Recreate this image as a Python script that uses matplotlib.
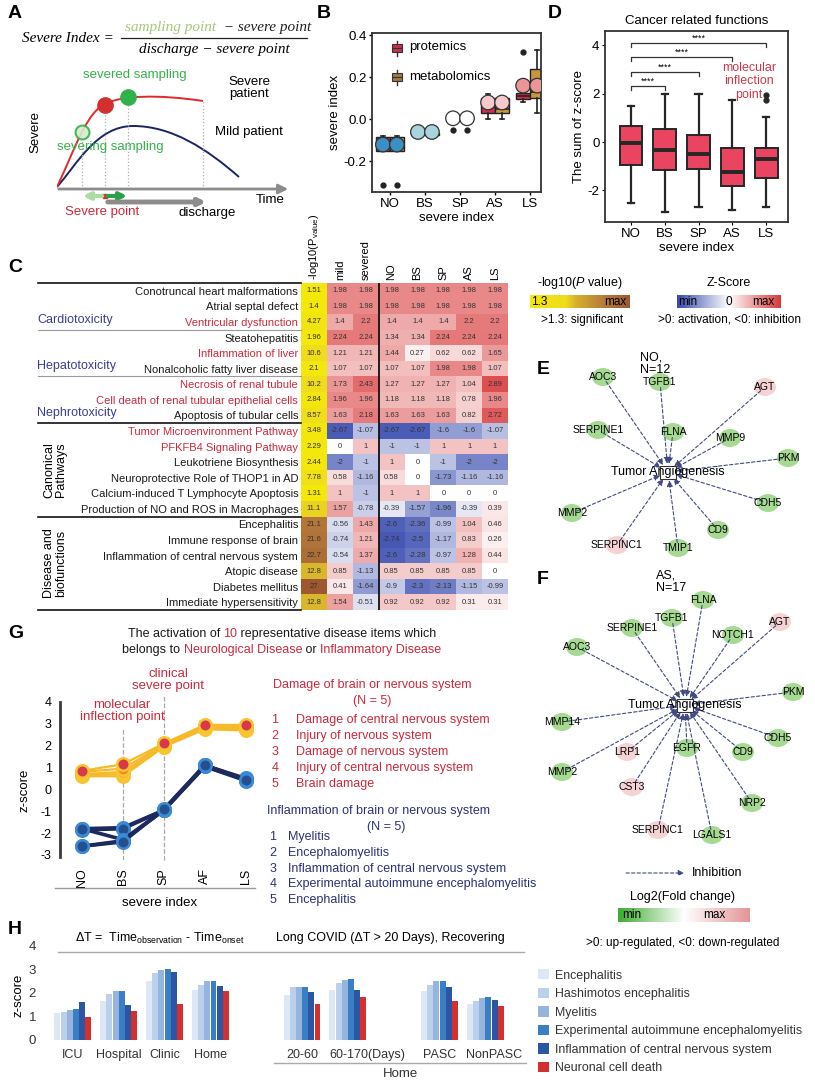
import matplotlib
matplotlib.use('Agg')
import matplotlib.pyplot as plt
import numpy as np
from matplotlib.colors import LinearSegmentedColormap, TwoSlopeNorm, Normalize
from matplotlib.path import Path
from matplotlib.patches import PathPatch, Rectangle, Ellipse
from matplotlib.transforms import ScaledTranslation

plt.rcParams['font.family'] = ['Liberation Sans', 'DejaVu Sans']
plt.rcParams['mathtext.fontset'] = 'custom'
plt.rcParams['mathtext.rm'] = 'Liberation Sans'
plt.rcParams['mathtext.it'] = 'Liberation Sans:italic'
plt.rcParams['axes.unicode_minus'] = False

# ---------------- data ----------------
# B: severe index per stage (box summary)
b_cats = ['NO', 'BS', 'SP', 'AS', 'LS']
b_prot_q1 = [-0.15, -0.075, 0.0, 0.03, 0.095]
b_prot_med = [-0.12, -0.07, 0.0, 0.06, 0.11]
b_prot_q3 = [-0.085, -0.065, 0.0, 0.10, 0.125]
b_prot_lo = [-0.15, -0.075, 0.0, 0.0, 0.08]
b_prot_hi = [-0.08, -0.065, 0.0, 0.12, 0.13]
b_prot_fliers = [[-0.31], [], [-0.05], [], [0.32]]
b_meta_q1 = [-0.15, -0.075, 0.0, 0.03, 0.10]
b_meta_med = [-0.12, -0.07, 0.0, 0.05, 0.13]
b_meta_q3 = [-0.085, -0.065, 0.0, 0.10, 0.24]
b_meta_lo = [-0.15, -0.075, 0.0, 0.0, 0.03]
b_meta_hi = [-0.08, -0.065, 0.0, 0.10, 0.33]
b_meta_fliers = [[-0.31], [], [-0.05], [], []]
b_point = [-0.12, -0.06, 0.005, 0.08, 0.16]
b_point_colors = ['#3b8fc2', '#a9d3df', '#ffffff', '#f6c9cb', '#ec9597']

# D: cancer related functions
d_cats = ['NO', 'BS', 'SP', 'AS', 'LS']
d_q1 = [-0.95, -1.15, -1.1, -1.8, -1.5]
d_med = [-0.05, -0.32, -0.48, -1.25, -0.7]
d_q3 = [0.65, 0.55, 0.3, -0.25, -0.25]
d_lo = [-2.5, -2.9, -2.7, -2.8, -2.7]
d_hi = [1.5, 2.0, 2.0, 1.75, 1.05]
d_fliers = [[], [], [], [], [1.72, 1.96]]
d_sig_to = [1, 2, 3, 4]
d_sig_y = [2.3, 2.9, 3.5, 4.08]

# C: heatmap
c_rows = ['Conotruncal heart malformations', 'Atrial septal defect', 'Ventricular dysfunction',
          'Steatohepatitis', 'Inflammation of liver', 'Nonalcoholic fatty liver disease',
          'Necrosis of renal tubule', 'Cell death of renal tubular epithelial cells',
          'Apoptosis of tubular cells', 'Tumor Microenvironment Pathway',
          'PFKFB4 Signaling Pathway', 'Leukotriene Biosynthesis',
          'Neuroprotective Role of THOP1 in AD', 'Calcium-induced T Lymphocyte Apoptosis',
          'Production of NO and ROS in Macrophages', 'Encephalitis', 'Immune response of brain',
          'Inflammation of central nervous system', 'Atopic disease', 'Diabetes mellitus',
          'Immediate hypersensitivity']
c_row_red = [0, 0, 1, 0, 1, 0, 1, 1, 0, 1, 1, 0, 0, 0, 0, 0, 0, 0, 0, 0, 0]
c_pval = [1.51, 1.4, 4.27, 1.96, 10.6, 2.1, 10.2, 2.84, 8.57, 3.48, 2.29, 2.44, 7.78, 1.31,
          11.1, 21.1, 21.6, 22.7, 12.8, 27, 12.8]
c_cols = ['mild', 'severed', 'NO', 'BS', 'SP', 'AS', 'LS']
c_z = [
    [1.98, 1.98, 1.98, 1.98, 1.98, 1.98, 1.98],
    [1.98, 1.98, 1.98, 1.98, 1.98, 1.98, 1.98],
    [1.4, 2.2, 1.4, 1.4, 1.4, 2.2, 2.2],
    [2.24, 2.24, 1.34, 1.34, 2.24, 2.24, 2.24],
    [1.21, 1.21, 1.44, 0.27, 0.62, 0.62, 1.65],
    [1.07, 1.07, 1.07, 1.07, 1.98, 1.98, 1.07],
    [1.73, 2.43, 1.27, 1.27, 1.27, 1.04, 2.89],
    [1.96, 1.96, 1.18, 1.18, 1.18, 0.78, 1.96],
    [1.63, 2.18, 1.63, 1.63, 1.63, 0.82, 2.72],
    [-2.67, -1.07, -2.67, -2.67, -1.6, -1.6, -1.07],
    [0, 1, -1, -1, 1, 1, 1],
    [-2, -1, 1, 0, -1, -2, -2],
    [0.58, -1.16, 0.58, 0, -1.73, -1.16, -1.16],
    [1, -1, 1, 1, 0, 0, 0],
    [1.57, -0.78, -0.39, -1.57, -1.96, -0.39, 0.39],
    [-0.56, 1.43, -2.6, -2.36, -0.99, 1.04, 0.46],
    [-0.74, 1.21, -2.74, -2.5, -1.17, 0.83, 0.26],
    [-0.54, 1.37, -2.6, -2.28, -0.97, 1.28, 0.44],
    [0.85, -1.13, 0.85, 0.85, 0.85, 0.85, 0],
    [0.41, -1.64, -0.9, -2.3, -2.13, -1.15, -0.99],
    [1.54, -0.51, 0.92, 0.92, 0.92, 0.31, 0.31],
]
c_groups = ['Cardiotoxicity', 'Hepatotoxicity', 'Nephrotoxicity', 'Canonical\nPathways',
            'Disease and\nbiofunctions']
c_group_sizes = [3, 3, 3, 6, 6]

# E / F: networks (gene, up-regulated?)
e_genes = ['AOC3', 'TGFB1', 'AGT', 'SERPINE1', 'FLNA', 'MMP9', 'PKM', 'CDH5', 'MMP2', 'CD9',
           'SERPINC1', 'TMIP1']
e_up = [0, 0, 1, 0, 0, 0, 0, 0, 0, 0, 1, 0]
f_genes = ['FLNA', 'TGFB1', 'SERPINE1', 'AGT', 'NOTCH1', 'AOC3', 'PKM', 'MMP14', 'CDH5', 'LRP1',
           'EGFR', 'CD9', 'MMP2', 'CST3', 'NRP2', 'SERPINC1', 'LGALS1']
f_up = [0, 0, 0, 1, 0, 0, 0, 0, 0, 1, 0, 0, 0, 1, 0, 1, 0]

# G: activation z-scores
g_stages = ['NO', 'BS', 'SP', 'AF', 'LS']
g_damage = [[0.85, 1.15, 2.1, 2.95, 2.95],
            [0.8, 0.95, 2.05, 2.9, 2.9],
            [0.7, 0.8, 2.0, 2.85, 2.8],
            [0.65, 0.7, 2.05, 2.8, 2.75],
            [0.6, 0.6, 1.95, 2.75, 2.7]]
g_inflam = [[-1.8, -1.75, -0.95, 1.1, 0.45],
            [-1.85, -1.8, -0.95, 1.05, 0.45],
            [-1.8, -2.3, -0.95, 1.1, 0.5],
            [-2.6, -2.35, -0.95, 1.05, 0.4],
            [-2.6, -2.4, -0.9, 1.1, 0.45]]
g_damage_items = ['Damage of central nervous system', 'Injury of nervous system',
                  'Damage of nervous system', 'Injury of central nervous system', 'Brain damage']
g_inflam_items = ['Myelitis', 'Encephalomyelitis', 'Inflammation of central nervous system',
                  'Experimental autoimmune encephalomyelitis', 'Encephalitis']

# H: long covid z-scores
h_groups = ['ICU', 'Hospital', 'Clinic', 'Home', '20-60', '60-170(Days)', 'PASC', 'NonPASC']
h_series = ['Encephalitis', 'Hashimotos encephalitis', 'Myelitis',
            'Experimental autoimmune encephalomyelitis', 'Inflammation of central nervous system',
            'Neuronal cell death']
h_values = [[1.13, 1.63, 2.51, 2.13, 1.89, 2.13, 2.09, 1.53],
            [1.16, 1.94, 2.84, 2.34, 2.23, 2.41, 2.34, 1.63],
            [1.27, 2.06, 2.98, 2.48, 2.23, 2.55, 2.48, 1.77],
            [1.30, 2.09, 3.00, 2.51, 2.24, 2.60, 2.51, 1.80],
            [1.59, 1.49, 2.90, 2.27, 2.03, 2.13, 2.24, 1.70],
            [0.96, 1.23, 1.53, 2.06, 1.52, 1.80, 1.63, 1.42]]

# ---------------- figure ----------------
W, H = 815, 1084
fig = plt.figure(figsize=(W / 100, H / 100), dpi=100)
RED = '#cc2a3c'
GREEN = '#35b24a'
NAVY = '#2b3278'


def pxax(x0, y0, x1, y1):
    a = fig.add_axes([x0 / W, 1 - y1 / H, (x1 - x0) / W, (y1 - y0) / H])
    a.patch.set_alpha(0)
    return a


ov = fig.add_axes([0, 0, 1, 1])
ov.set_xlim(0, W)
ov.set_ylim(H, 0)
ov.axis('off')
ov.set_zorder(5)
ov.patch.set_alpha(0)
renderer = fig.canvas.get_renderer()


def rich(x, y, parts, size=9, ha='center', **kw):
    texts, widths = [], []
    for s, c in parts:
        t = ov.text(0, y, s, color=c, fontsize=size, va='center', ha='left', **kw)
        texts.append(t)
        widths.append(t.get_window_extent(renderer).width)
    x0 = x - sum(widths) / 2 if ha == 'center' else x
    for t, w in zip(texts, widths):
        t.set_x(x0)
        x0 += w


for lab, x, y in [('A', 8, 14), ('B', 317, 14), ('D', 548, 13), ('C', 8, 268),
                  ('E', 537, 369), ('F', 537, 579), ('G', 8, 633), ('H', 8, 929)]:
    ov.text(x, y, lab, fontsize=14, fontweight='bold', va='center')

# ---- A ----
serif = dict(family='Liberation Serif', style='italic', fontsize=11)
ov.text(22, 38, 'Severe Index =', va='center', **serif)
rich(125, 27, [('sampling point', '#a3c87a'), ('  \u2212 severe point', '#222222')], ha='left',
     size=11, family='Liberation Serif', style='italic')
ov.text(214, 49, 'discharge \u2212 severe point', va='center', ha='center', **serif)
ov.plot([121, 307], [38, 38], color='#222222', lw=0.9)

ax_a = pxax(57, 75, 285, 189)
ax_a.set_xlim(0, 228)
ax_a.set_ylim(0, 114)
ax_a.axis('off')
red_path = Path([(0, 2), (20, 45), (30, 78), (50, 86), (65, 93), (100, 95), (146, 88)],
                [Path.MOVETO] + [Path.CURVE4] * 6)
blue_path = Path([(0, 2), (20, 25), (40, 63), (76, 63), (115, 63), (150, 40), (182, 12)],
                 [Path.MOVETO] + [Path.CURVE4] * 6)
ax_a.add_patch(PathPatch(blue_path, fc='none', ec='#1b2466', lw=1.4))
ax_a.add_patch(PathPatch(red_path, fc='none', ec='#e02a2a', lw=1.4))
ax_a.vlines([25, 48, 71, 146], 0, [57, 84, 92, 88], colors='#b0b0b0', linestyles=':', lw=0.9)
ax_a.annotate('', xy=(0, 116), xytext=(0, -1),
              arrowprops=dict(arrowstyle='-|>', color='#8c8c8c', lw=2, mutation_scale=14))
ax_a.annotate('', xy=(234, 0), xytext=(-1, 0),
              arrowprops=dict(arrowstyle='-|>', color='#8c8c8c', lw=2, mutation_scale=14),
              annotation_clip=False)
ax_a.plot([25], [57], 'o', ms=10, mfc='#d8ead0', mec=GREEN, mew=1.5, alpha=0.9)
ax_a.plot([48], [84], 'o', ms=11, mfc='#d32f2f', mec='#d32f2f')
ax_a.plot([71], [92], 'o', ms=11, mfc='#2fb14b', mec='#2fb14b')
ax_a.annotate('', xy=(23, -7), xytext=(48, -7), annotation_clip=False,
              arrowprops=dict(arrowstyle='-|>', color='#a8dca0', lw=3, mutation_scale=10))
ax_a.annotate('', xy=(73, -7), xytext=(48, -7), annotation_clip=False,
              arrowprops=dict(arrowstyle='-|>', color='#2aa048', lw=3, mutation_scale=10))
ax_a.plot([48], [-7], 's', ms=3, color='#d32f2f', clip_on=False)
ax_a.annotate('', xy=(152, -13), xytext=(48, -13), annotation_clip=False,
              arrowprops=dict(arrowstyle='-|>', color='#8c8c8c', lw=3.5, mutation_scale=10))
ax_a.text(78, 114, 'severed sampling', color=GREEN, fontsize=9.5, ha='center', va='center',
          clip_on=False)
ax_a.text(53, 42, 'severing sampling', color=GREEN, fontsize=9.5, ha='center', va='center')
ax_a.text(192, 101, 'Severe\npatient', fontsize=9.5, ha='center', va='center', linespacing=1.1)
ax_a.text(192, 57, 'Mild patient', fontsize=9.5, ha='center', va='center')
ax_a.text(-22, 57, 'Severe', fontsize=9.5, rotation=90, ha='center', va='center', clip_on=False)
ax_a.text(213, -11, 'Time', fontsize=9.5, ha='center', va='center', clip_on=False)
ax_a.text(45, -23, 'Severe point', fontsize=9.5, color=RED, ha='center', va='center',
          clip_on=False)
ax_a.text(150, -24, 'discharge', fontsize=9.5, ha='center', va='center', clip_on=False)

# ---- B ----
ax_b = pxax(372, 33, 541, 192)
xb = np.arange(1, 6)


def stats(q1, med, q3, lo, hi, fl):
    return [dict(q1=a, med=b, q3=c, whislo=d, whishi=e, fliers=f)
            for a, b, c, d, e, f in zip(q1, med, q3, lo, hi, fl)]


PROT, META = '#c9304a', '#c7963e'
edge = dict(color='#222222', lw=1.2)
for st, off, col in [(stats(b_prot_q1, b_prot_med, b_prot_q3, b_prot_lo, b_prot_hi,
                            b_prot_fliers), -0.2, PROT),
                     (stats(b_meta_q1, b_meta_med, b_meta_q3, b_meta_lo, b_meta_hi,
                            b_meta_fliers), 0.2, META)]:
    ax_b.bxp(st, positions=xb + off, widths=0.38, patch_artist=True, capwidths=0.1,
             boxprops=dict(facecolor=col, edgecolor='#222222', lw=1.0),
             medianprops=edge, whiskerprops=edge, capprops=edge,
             flierprops=dict(marker='o', mfc='#222222', mec='#222222', ms=3.5))
for off in (-0.2, 0.2):
    ax_b.scatter(xb + off, b_point, s=110, c=b_point_colors, edgecolors='#333333',
                 linewidths=0.9, zorder=4)
# legend icons
for yc, col in [(0.338, PROT), (0.2, '#9c7a44')]:
    ax_b.bxp(stats([yc - 0.02], [yc], [yc + 0.02], [yc - 0.035], [yc + 0.035], [[]]),
             positions=[1.2], widths=0.3, patch_artist=True, capwidths=0.0, manage_ticks=False,
             boxprops=dict(facecolor=col, edgecolor='#333333', lw=0.8),
             medianprops=dict(color='#333333', lw=0.8), whiskerprops=dict(color='#333333'))
ax_b.text(1.55, 0.345, 'protemics', fontsize=9.5, va='center')
ax_b.text(1.55, 0.2, 'metabolomics', fontsize=9.5, va='center')
ax_b.set_xlim(0.49, 5.31)
ax_b.set_ylim(-0.345, 0.41)
ax_b.set_xticks(xb, b_cats)
ax_b.set_yticks([-0.2, 0, 0.2, 0.4], ['-0.2', '0.0', '0.2', '0.4'])
ax_b.tick_params(labelsize=9.5, length=2.5, width=1, pad=1.5)
ax_b.set_xlabel('severe index', fontsize=9.5, labelpad=2)
ax_b.set_ylabel('severe index', fontsize=9.5, labelpad=2)
for s in ax_b.spines.values():
    s.set_linewidth(1.3)
    s.set_color('#333333')

# ---- D ----
ax_d = pxax(605, 31, 788, 222)
xd = np.arange(1, 6)
ax_d.bxp(stats(d_q1, d_med, d_q3, d_lo, d_hi, d_fliers), positions=xd, widths=0.68,
         patch_artist=True, capwidths=0.18,
         boxprops=dict(facecolor='#ea4460', edgecolor='#262626', lw=1.4),
         medianprops=dict(color='#262626', lw=2.8),
         whiskerprops=dict(color='#262626', lw=1.6), capprops=dict(color='#262626', lw=1.6),
         flierprops=dict(marker='o', mfc='#262626', mec='#262626', ms=3.5))
for j, yv in zip(d_sig_to, d_sig_y):
    ax_d.plot([1, 1, xd[j], xd[j]], [yv - 0.17, yv, yv, yv - 0.17], color='#333333', lw=0.9)
    ax_d.text((1 + xd[j]) / 2, yv + 0.02, '****', fontsize=6.5, ha='center', va='bottom')
ax_d.text(4.5, 2.5, 'molecular\ninflection\npoint', color='#cc3a48', fontsize=9,
          ha='center', va='center', linespacing=1.2)
ax_d.set_xlim(0.23, 5.65)
ax_d.set_ylim(-3.3, 4.58)
ax_d.set_xticks(xd, d_cats)
ax_d.set_yticks([-2, 0, 2, 4])
ax_d.tick_params(labelsize=9.5, length=2.5, pad=1.5)
ax_d.set_xlabel('severe index', fontsize=9.5, labelpad=2)
ax_d.set_ylabel('The sum of z-score', fontsize=9.5, labelpad=2)
ax_d.set_title('Cancer related functions', fontsize=9.5, pad=5)
for s in ax_d.spines.values():
    s.set_linewidth(1.3)
    s.set_color('#333333')

# ---- C ----
p_cmap = LinearSegmentedColormap.from_list(
    'p', [(0, '#f4e80a'), (0.36, '#efdc1c'), (0.46, '#d7b02e'), (0.76, '#b3783a'),
          (1, '#9d5830')])
p_norm = Normalize(1.3, 27)
z_cmap = LinearSegmentedColormap.from_list('z', ['#3448ad', '#ffffff', '#d83838'])
z_norm = TwoSlopeNorm(vcenter=0, vmin=-3.0, vmax=3.3)
ax_c = pxax(301, 283, 508, 610)
nr = len(c_rows)
ax_c.pcolormesh([0, 1], np.arange(nr + 1), np.array(c_pval)[:, None], cmap=p_cmap, norm=p_norm)
ax_c.pcolormesh(np.arange(1, 9), np.arange(nr + 1), np.array(c_z), cmap=z_cmap, norm=z_norm)
for i in range(nr):
    ax_c.text(0.5, i + 0.5, f'{c_pval[i]:g}', fontsize=5.5, ha='center', va='center',
              color='#333333')
    for j in range(7):
        ax_c.text(j + 1.5, i + 0.5, f'{c_z[i][j]:g}', fontsize=5.5, ha='center', va='center',
                  color='#333333')
ax_c.axvline(3, color='#111111', lw=1.3)
ax_c.set_xlim(0, 8)
ax_c.set_ylim(nr, 0)
ax_c.set_yticks(np.arange(nr) + 0.5, c_rows)
for lbl, red in zip(ax_c.get_yticklabels(), c_row_red):
    lbl.set_color(RED if red else '#1a1a1a')
ax_c.xaxis.tick_top()
ax_c.set_xticks(np.arange(8) + 0.5, ['-log10(P$_{\\rm value}$)'] + c_cols, rotation=90)
ax_c.tick_params(length=0, labelsize=8, pad=2)
for s in ax_c.spines.values():
    s.set_visible(False)
row_h = 327 / nr
bounds = np.cumsum([0] + c_group_sizes)
for k, b in enumerate(bounds):
    gray = b in (3, 6)
    ov.plot([38, 301], [283 + b * row_h] * 2, color='#9a9a9a' if gray else '#111111',
            lw=0.8 if gray else 1.2)
for k, g in enumerate(c_groups):
    if k < 3:
        ov.text(37, 283 + (bounds[k + 1] - 0.65) * row_h, g, color='#3a3f95', fontsize=9,
                va='center')
    else:
        ov.text(55, 283 + (bounds[k] + bounds[k + 1]) / 2 * row_h, g, fontsize=9, rotation=90,
                ha='center', va='center', linespacing=1.0)

grad = np.linspace(0, 1, 256)[None, :]
cb1 = pxax(530, 295, 630, 308)
cb1.imshow(grad, aspect='auto', cmap=p_cmap)
cb1.axis('off')
cb2 = pxax(677, 295, 781, 308)
cb2.imshow(grad, aspect='auto', cmap=z_cmap)
cb2.axis('off')
ov.text(580, 283, '-log10($\\it{P}$ value)', fontsize=9, ha='center', va='center')
ov.text(531, 302, '1.3', fontsize=8.5, va='center')
ov.text(626, 302, 'max', fontsize=8.5, va='center', ha='right')
ov.text(582, 320, '>1.3: significant', fontsize=8.5, ha='center', va='center')
ov.text(729, 283, 'Z-Score', fontsize=9, ha='center', va='center')
ov.text(688, 302, 'min', fontsize=8.5, va='center', ha='center')
ov.text(729, 302, '0', fontsize=8.5, va='center', ha='center')
ov.text(763, 302, 'max', fontsize=8.5, va='center', ha='center')
ov.text(730, 320, '>0: activation, <0: inhibition', fontsize=8.5, ha='center', va='center')

# ---- E / F networks ----
e_center = (668, 472)
e_layout = [(-65, -95), (-8, -90), (97, -85), (-70, -42), (5, -40), (62, -34), (120, -14),
            (100, 31), (-96, 41), (50, 58), (-51, 73), (10, 76)]
f_center = (685, 705)
f_layout = [(18, -105), (-13, -87), (-53, -77), (95, -83), (48, -70), (-108, -58), (108, -13),
            (-123, 17), (93, 33), (-58, 47), (2, 43), (58, 47), (-123, 67), (-53, 82), (67, 98),
            (-27, 125), (27, 130)]


def network(center, genes, up, layout):
    cx, cy = center
    for g, u, (dx, dy) in zip(genes, up, layout):
        x, y = cx + dx, cy + dy
        ov.add_patch(Ellipse((x, y), 22, 18, fc='#f5d3d4' if u else '#a6da92', ec='none',
                             zorder=1))
        ov.annotate('', xy=(cx, cy), xytext=(x, y), zorder=2,
                    arrowprops=dict(arrowstyle='-|>', color='#3f4a82', lw=0.8, ls=(0, (3, 2)),
                                    shrinkA=4, shrinkB=6, mutation_scale=9))
        ov.text(x, y, g, fontsize=7.5, ha='center', va='center', zorder=4)
    ov.add_patch(Rectangle((cx - 8, cy - 6), 16, 13, fc='white', ec='#333333', lw=0.8, zorder=3))
    ov.text(cx, cy, 'Tumor Angiogenesis', fontsize=9, ha='center', va='center', zorder=4)


network(e_center, e_genes, e_up, e_layout)
network(f_center, f_genes, f_up, f_layout)
ov.text(640, 364, 'NO,\nN=12', fontsize=9, va='center', linespacing=1.0)
ov.text(656, 582, 'AS,\nN=17', fontsize=9, va='center', linespacing=1.1)
ov.annotate('', xy=(684, 873), xytext=(626, 873),
            arrowprops=dict(arrowstyle='-|>', color='#3f4a82', lw=0.8, ls=(0, (3, 2)),
                            mutation_scale=8, shrinkA=0, shrinkB=0))
ov.text(692, 873, 'Inhibition', fontsize=9, va='center')
ov.text(683, 897, 'Log2(Fold change)', fontsize=9, ha='center', va='center')
fc_cmap = LinearSegmentedColormap.from_list('fc', ['#3aad2c', '#ffffff', '#e49596'])
cb3 = pxax(618, 908, 750, 922)
cb3.imshow(grad, aspect='auto', cmap=fc_cmap)
cb3.axis('off')
ov.text(622, 915, 'min', fontsize=8.5, va='center')
ov.text(714, 915, 'max', fontsize=8.5, va='center', ha='center')
ov.text(683, 943, '>0: up-regulated, <0: down-regulated', fontsize=8.5, ha='center',
        va='center')

# ---- G ----
rich(282, 634, [('The activation of ', '#1a1a1a'), ('10', RED),
                (' representative disease items which', '#1a1a1a')], size=9)
rich(282, 650, [('belongs to ', '#1a1a1a'), ('Neurological Disease', RED), (' or ', '#1a1a1a'),
                ('Inflammatory Disease', RED)], size=9)
ax_g = pxax(60, 698, 262, 860)
xg = np.arange(len(g_stages))
ax_g.vlines([1], -3.25, 2.8, colors='#aaaaaa', linestyles='--', lw=0.9, zorder=0)
ax_g.vlines([2], -3.25, 4.3, colors='#aaaaaa', linestyles='--', lw=0.9, zorder=0,
            clip_on=False)
for ys in g_inflam:
    ax_g.plot(xg, ys, '-o', color='#1c2a5e', lw=2.6, ms=9, mfc='#24508f', mec='#3c8ad6', mew=1.8)
for ys in g_damage[::-1]:
    ax_g.plot(xg, ys, '-o', color='#f6b928', lw=1.6, ms=9, mfc='#ee8a2c', mec='#f8c430',
              mew=1.8)
ax_g.plot(xg, g_damage[0], 'o', ms=6, color='#d8384a', ls='none')
ax_g.set_xlim(-0.54, 4.4)
ax_g.set_ylim(-3.23, 4.18)
ax_g.set_yticks(np.arange(-3, 5))
ax_g.set_xticks(xg, g_stages, rotation=90)
ax_g.tick_params(length=0, labelsize=9, pad=6)
for k in ('top', 'right', 'bottom'):
    ax_g.spines[k].set_visible(False)
ax_g.spines['left'].set_bounds(-3.1, 4)
ax_g.spines['left'].set_linewidth(2)
ax_g.spines['left'].set_color('#3a3a3a')
ov.text(25, 790, 'z-score', fontsize=9.5, rotation=90, ha='center', va='center')
ov.plot([55, 255], [888, 888], color='#999999', lw=1)
ov.text(160, 903, 'severe index', fontsize=9.5, ha='center', va='center')
ov.text(122, 711, 'molecular\ninflection point', color=RED, fontsize=9.5, ha='center',
        va='center', linespacing=1.05)
ov.text(168, 680, 'clinical\nsevere point', color=RED, fontsize=9.5, ha='center', va='center',
        linespacing=1.05)

ov.text(372, 685, 'Damage of brain or nervous system', color=RED, fontsize=9, ha='center',
        va='center')
ov.text(372, 701, '(N = 5)', color=RED, fontsize=9, ha='center', va='center')
for i, item in enumerate(g_damage_items):
    ov.text(275, 720 + i * 16.1, str(i + 1), color=RED, fontsize=9, ha='center', va='center')
    ov.text(296, 720 + i * 16.1, item, color=RED, fontsize=9, va='center')
ov.text(267, 811, 'Inflammation of brain or nervous system', color=NAVY, fontsize=9,
        va='center')
ov.text(386, 827, '(N = 5)', color=NAVY, fontsize=9, ha='center', va='center')
for i, item in enumerate(g_inflam_items):
    ov.text(273, 837 + i * 15.8, str(i + 1), color=NAVY, fontsize=9, ha='center', va='center')
    ov.text(288, 837 + i * 15.8, item, color=NAVY, fontsize=9, va='center')

# ---- H ----
h_pos = np.array([0, 1, 2, 3, 5, 6, 8, 9])
h_colors = ['#dce8f5', '#bad0eb', '#96b5de', '#3a7ec4', '#2a56a4', '#d3302f']
ax_h = pxax(50, 941, 522, 1042)
bw = 0.13
for k, (name, vals, col) in enumerate(zip(h_series, h_values, h_colors)):
    ax_h.bar(h_pos + (k - 2.5) * 0.135, vals, width=bw, color=col, label=name)
ax_h.set_xlim(-0.5, 9.8)
ax_h.set_ylim(-0.1, 4.2)
ax_h.set_yticks(range(5))
ax_h.set_xticks(h_pos, h_groups)
ax_h.tick_params(length=0, labelsize=9, labelcolor='#333333')
ax_h.tick_params(axis='y', labelsize=9.5, pad=10)
ax_h.tick_params(axis='x', pad=5)
xl = ax_h.get_xticklabels()
xl[5].set_ha('left')
xl[5].set_transform(xl[5].get_transform() + ScaledTranslation(-18 / 100, 0, fig.dpi_scale_trans))
xl[7].set_transform(xl[7].get_transform() + ScaledTranslation(9 / 100, 0, fig.dpi_scale_trans))
for s in ax_h.spines.values():
    s.set_visible(False)
ax_h.legend(loc='upper left', bbox_to_anchor=(532 / W, 1 - 963 / H),
            bbox_transform=fig.transFigure, frameon=False, fontsize=8.9, handlelength=0.9,
            handleheight=0.9, labelspacing=0.5, handletextpad=0.5, borderpad=0,
            labelcolor='#333333')
ov.text(18, 995, 'z-score', fontsize=9.5, rotation=90, ha='center', va='center')
ov.text(160, 938, '\u0394T =  Time$_{\\rm observation}$ - Time$_{\\rm onset}$', fontsize=9,
        ha='center', va='center')
ov.text(390, 938, 'Long COVID (\u0394T > 20 Days), Recovering', fontsize=9, ha='center',
        va='center')
ov.plot([58, 524], [952, 952], color='#aaaaaa', lw=1)
ov.plot([274, 526], [1063, 1063], color='#aaaaaa', lw=1)
ov.text(400, 1074, 'Home', fontsize=9.5, ha='center', va='center', color='#333333')

fig.savefig('out.png', dpi=100)
